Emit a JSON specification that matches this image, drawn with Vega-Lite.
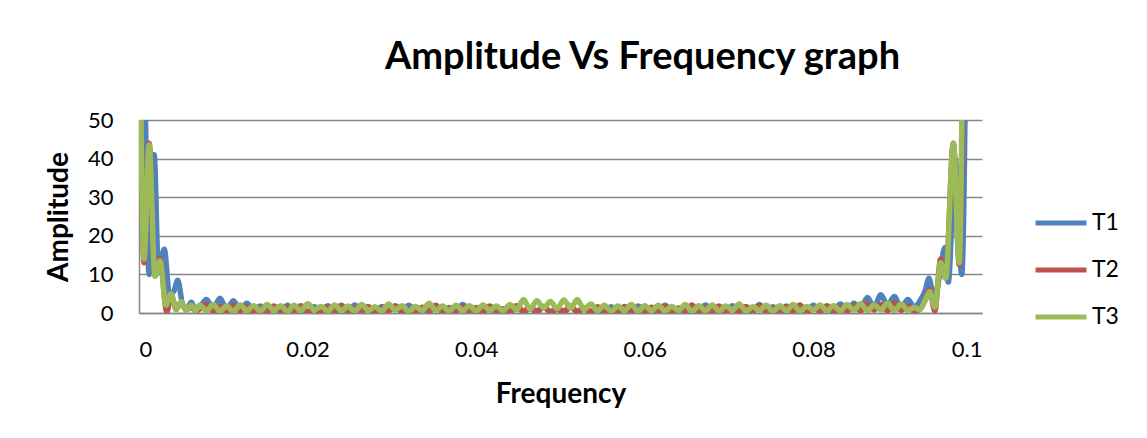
{
  "$schema": "https://vega.github.io/schema/vega-lite/v6.json",
  "width": 843,
  "height": 193,
  "autosize": {"type": "none"},
  "padding": {"left": 139, "top": 120, "right": 165, "bottom": 125},
  "background": "white",
  "title": {"text": "Amplitude Vs Frequency graph", "font": "Lato", "fontSize": 38, "fontWeight": "bold", "color": "black", "anchor": "middle", "dx": 82, "offset": 32},
  "datasets": {
    "T1": [
      {"freq":0,"amp":95},{"freq":0.0005,"amp":80},{"freq":0.0012,"amp":10},{"freq":0.0018,"amp":41},{"freq":0.0023,"amp":11},{"freq":0.0030,"amp":16.5},{"freq":0.0036,"amp":5},{"freq":0.0041,"amp":5.5},{"freq":0.0046,"amp":8.5},{"freq":0.0052,"amp":2},{"freq":0.0057,"amp":1.2},{"freq":0.0062,"amp":2.8},{"freq":0.0067,"amp":1.0},
      {"freq":0.0072,"amp":1.5},{"freq":0.0080,"amp":3.5},{"freq":0.0088,"amp":1.2},{"freq":0.0096,"amp":3.8},{"freq":0.0104,"amp":1.0},{"freq":0.0112,"amp":3.2},{"freq":0.0120,"amp":0.8},{"freq":0.0128,"amp":2.5},{"freq":0.0136,"amp":0.6},
      {"freq":0.0144,"amp":1.8},{"freq":0.0152,"amp":0.4},{"freq":0.0160,"amp":1.5},{"freq":0.0168,"amp":0.6},{"freq":0.0176,"amp":2.0},{"freq":0.0184,"amp":0.5},{"freq":0.0192,"amp":1.2},{"freq":0.0200,"amp":0.3},{"freq":0.0208,"amp":1.6},{"freq":0.0216,"amp":0.8},{"freq":0.0224,"amp":1.9},{"freq":0.0232,"amp":0.4},{"freq":0.0240,"amp":1.3},{"freq":0.0248,"amp":0.6},{"freq":0.0256,"amp":2.1},{"freq":0.0264,"amp":0.5},{"freq":0.0272,"amp":1.4},{"freq":0.0280,"amp":0.3},{"freq":0.0288,"amp":1.7},{"freq":0.0296,"amp":0.9},{"freq":0.0304,"amp":1.5},{"freq":0.0312,"amp":0.4},{"freq":0.0320,"amp":2.0},{"freq":0.0328,"amp":0.6},{"freq":0.0336,"amp":1.2},{"freq":0.0344,"amp":0.3},{"freq":0.0352,"amp":1.8},{"freq":0.0360,"amp":0.5},{"freq":0.0368,"amp":1.4},{"freq":0.0376,"amp":0.7},{"freq":0.0384,"amp":2.2},{"freq":0.0392,"amp":0.5},
      {"freq":0.0400,"amp":1.3},{"freq":0.0408,"amp":0.4},{"freq":0.0416,"amp":1.6},{"freq":0.0424,"amp":0.3},{"freq":0.0432,"amp":1.1},{"freq":0.0440,"amp":0.5},{"freq":0.0448,"amp":1.8},{"freq":0.0456,"amp":0.3},{"freq":0.0464,"amp":1.2},{"freq":0.0472,"amp":0.6},{"freq":0.0480,"amp":1.5},{"freq":0.0488,"amp":0.4},{"freq":0.0496,"amp":1.0},{"freq":0.0504,"amp":0.3},{"freq":0.0512,"amp":1.4},{"freq":0.0520,"amp":0.5},{"freq":0.0528,"amp":1.2},{"freq":0.0536,"amp":0.3},{"freq":0.0544,"amp":0.9},{"freq":0.0552,"amp":0.4},{"freq":0.0560,"amp":1.6},{"freq":0.0568,"amp":0.5},{"freq":0.0576,"amp":1.3},{"freq":0.0584,"amp":0.3},{"freq":0.0592,"amp":1.8},{"freq":0.0600,"amp":0.6},
      {"freq":0.0608,"amp":1.4},{"freq":0.0616,"amp":0.4},{"freq":0.0624,"amp":2.0},{"freq":0.0632,"amp":0.5},{"freq":0.0640,"amp":1.3},{"freq":0.0648,"amp":0.3},{"freq":0.0656,"amp":1.7},{"freq":0.0664,"amp":0.6},{"freq":0.0672,"amp":2.1},{"freq":0.0680,"amp":0.4},{"freq":0.0688,"amp":1.5},{"freq":0.0696,"amp":0.3},{"freq":0.0704,"amp":1.9},{"freq":0.0712,"amp":0.7},{"freq":0.0720,"amp":1.2},{"freq":0.0728,"amp":0.4},{"freq":0.0736,"amp":2.2},{"freq":0.0744,"amp":0.5},{"freq":0.0752,"amp":1.6},{"freq":0.0760,"amp":0.3},{"freq":0.0768,"amp":1.8},{"freq":0.0776,"amp":0.6},{"freq":0.0784,"amp":1.3},{"freq":0.0792,"amp":0.4},{"freq":0.0800,"amp":2.0},{"freq":0.0808,"amp":0.5},{"freq":0.0816,"amp":1.5},{"freq":0.0824,"amp":0.8},{"freq":0.0832,"amp":2.3},{"freq":0.0840,"amp":0.6},
      {"freq":0.0848,"amp":2.5},{"freq":0.0856,"amp":1.0},{"freq":0.0864,"amp":4.0},{"freq":0.0872,"amp":1.5},{"freq":0.0880,"amp":4.7},{"freq":0.0888,"amp":2.0},{"freq":0.0896,"amp":4.3},{"freq":0.0904,"amp":1.2},{"freq":0.0912,"amp":3.5},{"freq":0.0920,"amp":1.5},
      {"freq":0.0926,"amp":3},{"freq":0.0933,"amp":6},{"freq":0.0937,"amp":9},{"freq":0.0943,"amp":4},{"freq":0.0950,"amp":10},{"freq":0.0956,"amp":17},{"freq":0.0960,"amp":8},{"freq":0.0968,"amp":40},{"freq":0.0976,"amp":10},{"freq":0.0982,"amp":95}
    ],
    "T2": [
      {"freq":0,"amp":95},{"freq":0.0006,"amp":13},{"freq":0.0012,"amp":44},{"freq":0.0019,"amp":10},{"freq":0.0025,"amp":14},{"freq":0.0033,"amp":0.3},{"freq":0.0038,"amp":4.5},{"freq":0.0044,"amp":1.5},{"freq":0.0050,"amp":2.5},{"freq":0.0056,"amp":0.8},{"freq":0.0062,"amp":1.5},{"freq":0.0067,"amp":0.5},
      {"freq":0.0072,"amp":1.0},{"freq":0.0080,"amp":2.2},{"freq":0.0088,"amp":0.4},{"freq":0.0096,"amp":1.8},{"freq":0.0104,"amp":0.3},{"freq":0.0112,"amp":2.0},{"freq":0.0120,"amp":0.5},{"freq":0.0128,"amp":1.6},{"freq":0.0136,"amp":0.2},
      {"freq":0.0144,"amp":1.2},{"freq":0.0152,"amp":0.3},{"freq":0.0160,"amp":1.8},{"freq":0.0168,"amp":0.2},{"freq":0.0176,"amp":1.4},{"freq":0.0184,"amp":0.6},{"freq":0.0192,"amp":1.9},{"freq":0.0200,"amp":0.3},{"freq":0.0208,"amp":1.1},{"freq":0.0216,"amp":0.2},{"freq":0.0224,"amp":1.6},{"freq":0.0232,"amp":0.5},{"freq":0.0240,"amp":2.0},{"freq":0.0248,"amp":0.3},{"freq":0.0256,"amp":1.2},{"freq":0.0264,"amp":0.4},{"freq":0.0272,"amp":1.7},{"freq":0.0280,"amp":0.2},{"freq":0.0288,"amp":1.3},{"freq":0.0296,"amp":0.5},{"freq":0.0304,"amp":1.9},{"freq":0.0312,"amp":0.3},{"freq":0.0320,"amp":1.0},{"freq":0.0328,"amp":0.2},{"freq":0.0336,"amp":1.5},{"freq":0.0344,"amp":0.6},{"freq":0.0352,"amp":2.0},{"freq":0.0360,"amp":0.3},{"freq":0.0368,"amp":1.2},{"freq":0.0376,"amp":0.4},{"freq":0.0384,"amp":1.6},{"freq":0.0392,"amp":0.3},
      {"freq":0.0400,"amp":1.4},{"freq":0.0408,"amp":0.2},{"freq":0.0416,"amp":1.8},{"freq":0.0424,"amp":0.4},{"freq":0.0432,"amp":1.1},{"freq":0.0440,"amp":0.2},{"freq":0.0448,"amp":1.9},{"freq":0.0456,"amp":0.5},{"freq":0.0464,"amp":1.3},{"freq":0.0472,"amp":0.2},{"freq":0.0480,"amp":1.7},{"freq":0.0488,"amp":0.3},{"freq":0.0496,"amp":1.0},{"freq":0.0504,"amp":0.5},{"freq":0.0512,"amp":1.8},{"freq":0.0520,"amp":0.2},{"freq":0.0528,"amp":1.2},{"freq":0.0536,"amp":0.4},{"freq":0.0544,"amp":1.6},{"freq":0.0552,"amp":0.2},{"freq":0.0560,"amp":1.1},{"freq":0.0568,"amp":0.3},{"freq":0.0576,"amp":1.7},{"freq":0.0584,"amp":0.5},{"freq":0.0592,"amp":1.2},{"freq":0.0600,"amp":0.2},
      {"freq":0.0608,"amp":1.5},{"freq":0.0616,"amp":0.3},{"freq":0.0624,"amp":1.9},{"freq":0.0632,"amp":0.2},{"freq":0.0640,"amp":1.2},{"freq":0.0648,"amp":0.5},{"freq":0.0656,"amp":2.1},{"freq":0.0664,"amp":0.3},{"freq":0.0672,"amp":1.4},{"freq":0.0680,"amp":0.2},{"freq":0.0688,"amp":1.8},{"freq":0.0696,"amp":0.4},{"freq":0.0704,"amp":1.1},{"freq":0.0712,"amp":0.2},{"freq":0.0720,"amp":1.7},{"freq":0.0728,"amp":0.5},{"freq":0.0736,"amp":2.0},{"freq":0.0744,"amp":0.3},{"freq":0.0752,"amp":1.3},{"freq":0.0760,"amp":0.2},{"freq":0.0768,"amp":1.6},{"freq":0.0776,"amp":0.4},{"freq":0.0784,"amp":2.1},{"freq":0.0792,"amp":0.3},{"freq":0.0800,"amp":1.2},{"freq":0.0808,"amp":0.5},{"freq":0.0816,"amp":1.9},{"freq":0.0824,"amp":0.3},{"freq":0.0832,"amp":1.5},{"freq":0.0840,"amp":0.4},
      {"freq":0.0848,"amp":2.0},{"freq":0.0856,"amp":0.5},{"freq":0.0864,"amp":2.4},{"freq":0.0872,"amp":0.8},{"freq":0.0880,"amp":2.2},{"freq":0.0888,"amp":0.5},{"freq":0.0896,"amp":2.6},{"freq":0.0904,"amp":0.7},{"freq":0.0912,"amp":1.8},{"freq":0.0920,"amp":0.4},
      {"freq":0.0926,"amp":1},{"freq":0.0932,"amp":3},{"freq":0.0938,"amp":6},{"freq":0.0944,"amp":0.5},{"freq":0.0951,"amp":14},{"freq":0.0957,"amp":9},{"freq":0.0966,"amp":44},{"freq":0.0973,"amp":12.5},{"freq":0.0979,"amp":95}
    ],
    "T3": [
      {"freq":0,"amp":95},{"freq":0.0006,"amp":14},{"freq":0.0012,"amp":43.5},{"freq":0.0019,"amp":9.5},{"freq":0.0025,"amp":13.5},{"freq":0.0032,"amp":2},{"freq":0.0038,"amp":5},{"freq":0.0044,"amp":0.8},{"freq":0.0050,"amp":3},{"freq":0.0056,"amp":0.6},{"freq":0.0062,"amp":2},{"freq":0.0067,"amp":0.6},
      {"freq":0.0072,"amp":2.0},{"freq":0.0080,"amp":0.6},{"freq":0.0088,"amp":2.2},{"freq":0.0096,"amp":0.5},{"freq":0.0104,"amp":1.8},{"freq":0.0112,"amp":0.4},{"freq":0.0120,"amp":2.1},{"freq":0.0128,"amp":0.6},{"freq":0.0136,"amp":1.9},
      {"freq":0.0144,"amp":0.5},{"freq":0.0152,"amp":2.2},{"freq":0.0160,"amp":0.7},{"freq":0.0168,"amp":1.9},{"freq":0.0176,"amp":0.4},{"freq":0.0184,"amp":2.0},{"freq":0.0192,"amp":0.6},{"freq":0.0200,"amp":2.4},{"freq":0.0208,"amp":0.8},{"freq":0.0216,"amp":1.7},{"freq":0.0224,"amp":0.5},{"freq":0.0232,"amp":2.1},{"freq":0.0240,"amp":0.6},{"freq":0.0248,"amp":1.8},{"freq":0.0256,"amp":0.4},{"freq":0.0264,"amp":2.2},{"freq":0.0272,"amp":0.7},{"freq":0.0280,"amp":1.6},{"freq":0.0288,"amp":0.5},{"freq":0.0296,"amp":2.3},{"freq":0.0304,"amp":0.8},{"freq":0.0312,"amp":1.9},{"freq":0.0320,"amp":0.4},{"freq":0.0328,"amp":1.7},{"freq":0.0336,"amp":0.6},{"freq":0.0344,"amp":2.5},{"freq":0.0352,"amp":0.7},{"freq":0.0360,"amp":1.8},{"freq":0.0368,"amp":0.5},{"freq":0.0376,"amp":2.0},{"freq":0.0384,"amp":0.6},{"freq":0.0392,"amp":1.9},
      {"freq":0.0400,"amp":0.5},{"freq":0.0408,"amp":2.1},{"freq":0.0416,"amp":0.7},{"freq":0.0424,"amp":1.8},{"freq":0.0432,"amp":0.6},{"freq":0.0440,"amp":2.2},{"freq":0.0448,"amp":0.8},{"freq":0.0456,"amp":3.5},{"freq":0.0464,"amp":1.0},{"freq":0.0472,"amp":3.2},{"freq":0.0480,"amp":1.3},{"freq":0.0488,"amp":3.0},{"freq":0.0496,"amp":1.1},{"freq":0.0504,"amp":3.4},{"freq":0.0512,"amp":1.2},{"freq":0.0520,"amp":3.5},{"freq":0.0528,"amp":0.9},{"freq":0.0536,"amp":2.3},{"freq":0.0544,"amp":0.6},{"freq":0.0552,"amp":2.0},{"freq":0.0560,"amp":0.5},{"freq":0.0568,"amp":1.8},{"freq":0.0576,"amp":0.7},{"freq":0.0584,"amp":2.2},{"freq":0.0592,"amp":0.5},{"freq":0.0600,"amp":1.9},
      {"freq":0.0608,"amp":0.6},{"freq":0.0616,"amp":2.0},{"freq":0.0624,"amp":0.5},{"freq":0.0632,"amp":1.7},{"freq":0.0640,"amp":0.7},{"freq":0.0648,"amp":2.2},{"freq":0.0656,"amp":0.4},{"freq":0.0664,"amp":1.9},{"freq":0.0672,"amp":0.6},{"freq":0.0680,"amp":2.1},{"freq":0.0688,"amp":0.5},{"freq":0.0696,"amp":1.8},{"freq":0.0704,"amp":0.8},{"freq":0.0712,"amp":2.3},{"freq":0.0720,"amp":0.5},{"freq":0.0728,"amp":1.6},{"freq":0.0736,"amp":0.7},{"freq":0.0744,"amp":2.0},{"freq":0.0752,"amp":0.4},{"freq":0.0760,"amp":1.9},{"freq":0.0768,"amp":0.6},{"freq":0.0776,"amp":2.2},{"freq":0.0784,"amp":0.5},{"freq":0.0792,"amp":1.7},{"freq":0.0800,"amp":0.8},{"freq":0.0808,"amp":2.1},{"freq":0.0816,"amp":0.6},{"freq":0.0824,"amp":1.9},{"freq":0.0832,"amp":0.5},{"freq":0.0840,"amp":2.2},
      {"freq":0.0848,"amp":0.7},{"freq":0.0856,"amp":2.4},{"freq":0.0864,"amp":0.6},{"freq":0.0872,"amp":2.1},{"freq":0.0880,"amp":0.8},{"freq":0.0888,"amp":2.6},{"freq":0.0896,"amp":0.5},{"freq":0.0904,"amp":2.3},{"freq":0.0912,"amp":0.7},{"freq":0.0920,"amp":1.5},
      {"freq":0.0926,"amp":0.8},{"freq":0.0932,"amp":3},{"freq":0.0938,"amp":5.5},{"freq":0.0944,"amp":1.5},{"freq":0.0951,"amp":13},{"freq":0.0957,"amp":9},{"freq":0.0966,"amp":44},{"freq":0.0973,"amp":13},{"freq":0.0978,"amp":95}
    ]
  },
  "encoding": {
    "x": {"field": "freq", "type": "quantitative", "scale": {"domain": [0, 0.1], "nice": false, "zero": false},
      "axis": {"values": [0, 0.02, 0.04, 0.06, 0.08, 0.1], "format": "~g", "title": "Frequency", "grid": false, "ticks": false, "labelPadding": 26, "titlePadding": 20}},
    "y": {"field": "amp", "type": "quantitative", "scale": {"domain": [0, 50], "nice": false},
      "axis": {"values": [0, 10, 20, 30, 40, 50], "title": "Amplitude", "grid": true, "ticks": false, "labelPadding": 26, "titlePadding": 14}}
  },
  "layer": [
    {"data": {"name": "T1"}, "mark": {"type": "line", "clip": true, "strokeWidth": 5.5, "interpolate": "monotone", "strokeJoin": "round", "strokeCap": "round"},
      "encoding": {"color": {"datum": "T1", "type": "nominal", "scale": {"domain": ["T1", "T2", "T3"], "range": ["#4F81BD", "#C0504D", "#9BBB59"]}, "title": null}}},
    {"data": {"name": "T2"}, "mark": {"type": "line", "clip": true, "strokeWidth": 5.5, "interpolate": "monotone", "strokeJoin": "round", "strokeCap": "round"},
      "encoding": {"color": {"datum": "T2", "type": "nominal", "title": null}}},
    {"data": {"name": "T3"}, "mark": {"type": "line", "clip": true, "strokeWidth": 5.5, "interpolate": "monotone", "strokeJoin": "round", "strokeCap": "round"},
      "encoding": {"color": {"datum": "T3", "type": "nominal", "title": null}}}
  ],
  "config": {
    "view": {"stroke": null},
    "font": "Lato",
    "axis": {"labelFont": "Lato", "labelFontSize": 22, "labelColor": "black", "titleFont": "Lato", "titleFontSize": 28, "titleFontWeight": "bold", "titleColor": "black", "domainColor": "#868686", "domainWidth": 1.5, "gridColor": "#868686", "gridWidth": 1.5},
    "legend": {"orient": "none", "legendX": 894, "legendY": 75, "symbolType": "stroke", "symbolSize": 2601, "symbolStrokeWidth": 5, "labelFont": "Lato", "labelFontSize": 23, "labelColor": "black", "labelOffset": 3, "rowPadding": 7, "title": null}
  }
}
